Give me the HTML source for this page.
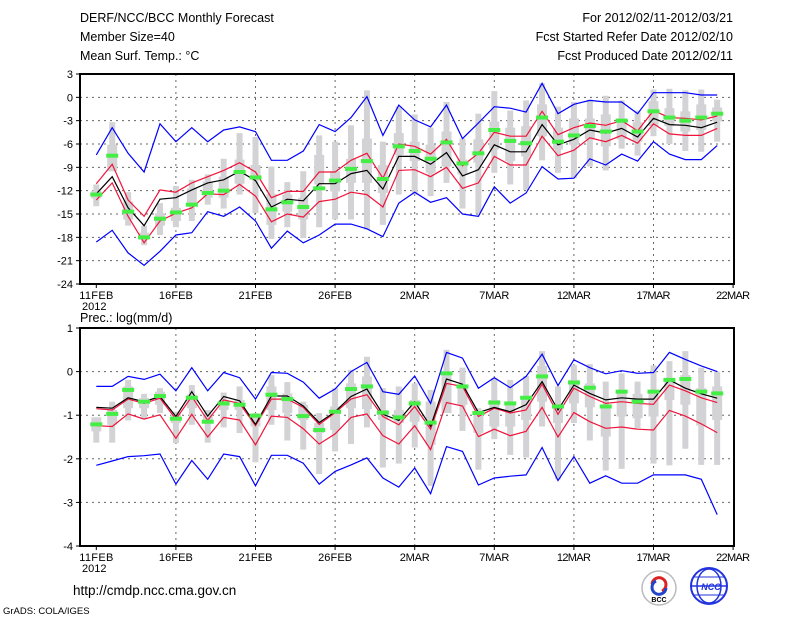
<!DOCTYPE html>
<html><head><meta charset="utf-8"><style>
html,body{margin:0;padding:0;background:#fff;}
svg{display:block;font-family:"Liberation Sans",sans-serif;}
</style></head><body>
<svg id="chart" width="800" height="618" viewBox="0 0 800 618" xmlns="http://www.w3.org/2000/svg">
<rect width="800" height="618" fill="#fff"/>
<g font-size="12.5" fill="#000">
<text x="80" y="22">DERF/NCC/BCC Monthly Forecast</text>
<text x="80" y="41">Member Size=40</text>
<text x="80" y="60">Mean Surf. Temp.: °C</text>
<text x="733" y="22" text-anchor="end">For 2012/02/11-2012/03/21</text>
<text x="733" y="41" text-anchor="end">Fcst Started Refer Date 2012/02/10</text>
<text x="733" y="60" text-anchor="end">Fcst Produced Date 2012/02/11</text>
<text x="80" y="322">Prec.: log(mm/d)</text>
<text x="73" y="595" font-size="13.5">http://cmdp.ncc.cma.gov.cn</text>
<text x="3" y="614" font-size="9.5">GrADS: COLA/IGES</text>
</g>
<g>
<circle cx="659" cy="588" r="17" fill="#fff" stroke="#bbb" stroke-width="1.5"/>
<path d="M652 584 a7 7 0 1 1 10 7" fill="none" stroke="#d22" stroke-width="3"/>
<path d="M666 588 a7 7 0 1 1 -10 -7" fill="none" stroke="#24c" stroke-width="3"/>
<text x="659" y="602" font-size="7" text-anchor="middle" font-weight="bold">BCC</text>
</g>
<g>
<circle cx="709" cy="586" r="18" fill="#fff" stroke="#2233dd" stroke-width="2"/>
<ellipse cx="709" cy="586" rx="12" ry="17" fill="none" stroke="#2233dd" stroke-width="1.5"/>
<line x1="691" y1="586" x2="727" y2="586" stroke="#2233dd" stroke-width="1.5"/>
<line x1="694" y1="577" x2="724" y2="577" stroke="#2233dd"/>
<line x1="694" y1="595" x2="724" y2="595" stroke="#2233dd"/>
<text x="711" y="590" font-size="9" fill="#2233dd" text-anchor="middle" font-weight="bold" font-style="italic">NCC</text>
</g>
<g id="top"></g>
<g id="bot"></g>
</svg>
<script>
// ---------- data: temperature panel ----------
const tMax=[-7.4,-3.9,-7.2,-9.6,-3.4,-5.7,-3.9,-5.7,-4.2,-3.8,-4.4,-8.1,-8.1,-6.9,-3.5,-4.4,-2.6,0.1,-4.9,-1.0,-2.9,-3.8,-1.0,-5.3,-3.3,-1.2,-1.4,-1.9,1.8,-2.1,-0.9,-0.4,-0.6,-0.6,-2.1,0.6,0.6,0.6,0.3,0.3];
const tMin=[-18.6,-17.1,-20.0,-21.6,-19.8,-17.7,-17.4,-14.7,-15.3,-14.1,-15.9,-19.4,-17.2,-18.7,-17.7,-16.3,-16.3,-16.9,-17.9,-13.6,-12.2,-13.5,-12.9,-15.0,-15.3,-11.5,-13.6,-12.3,-8.9,-10.5,-10.4,-7.9,-8.7,-7.3,-8.2,-5.7,-7.3,-8.0,-8.0,-6.2];
const tMean=[-12.4,-10.2,-14.2,-16.5,-13.1,-12.9,-11.9,-11.0,-10.6,-9.5,-10.7,-14.1,-13.1,-13.3,-11.1,-11.1,-9.8,-9.4,-11.8,-7.6,-7.6,-8.6,-7.1,-10.1,-9.3,-6.1,-7.0,-7.0,-3.5,-6.1,-5.4,-4.2,-4.6,-4.0,-5.1,-2.7,-3.5,-3.6,-3.9,-3.2];
const tRedHi=[-11.1,-8.6,-13.2,-15.3,-11.9,-12.2,-11.0,-10.2,-9.4,-8.4,-9.6,-12.9,-12.1,-12.1,-9.6,-9.6,-8.1,-7.2,-10.4,-6.0,-6.3,-7.3,-5.4,-8.8,-7.2,-4.5,-5.0,-5.0,-1.8,-4.8,-3.9,-3.3,-3.6,-3.0,-4.3,-1.7,-2.6,-2.7,-2.9,-2.4];
const tRedLo=[-13.2,-11.0,-15.3,-18.7,-15.9,-14.9,-14.2,-12.4,-12.5,-11.2,-12.7,-16.0,-15.0,-15.4,-13.4,-13.1,-12.2,-12.5,-14.1,-9.4,-9.3,-10.2,-9.0,-11.7,-11.0,-7.6,-8.7,-8.7,-5.0,-7.5,-6.8,-5.2,-5.7,-4.9,-5.9,-3.4,-4.7,-4.9,-4.9,-4.0];
const tObs=[-12.5,-7.5,-14.7,-18.0,-15.6,-14.8,-13.8,-12.3,-12.0,-9.6,-10.3,-14.4,-13.5,-14.1,-11.7,-10.7,-9.2,-8.2,-10.5,-6.3,-6.9,-7.9,-5.8,-8.5,-7.2,-4.2,-5.6,-5.9,-2.6,-5.7,-4.9,-3.7,-4.4,-3.0,-4.4,-1.8,-2.6,-3.0,-2.6,-2.1];
const tWhiskTop=[-11.2,-3.2,-12.2,-16.5,-13.6,-11.4,-10.6,-9.9,-7.9,-4.6,-5.1,-8.9,-10.9,-9.5,-4.9,-5.7,-3.6,0.9,-5.7,-1.2,-2.2,-3.9,-0.6,-5.3,-2.1,0.8,-1.7,-0.4,1.8,-1.2,-0.6,-0.3,0.2,-0.4,-1.7,1.0,1.1,0.9,1.0,-0.3];
const tBoxTop=[-12.0,-6.1,-13.4,-17.4,-14.9,-14.2,-11.7,-10.8,-10.2,-8.0,-8.7,-12.4,-12.5,-12.9,-7.4,-9.5,-7.9,-5.3,-8.7,-4.6,-5.7,-6.1,-4.4,-8.0,-5.4,-3.1,-3.9,-3.7,-0.9,-3.9,-2.7,-2.7,-2.2,-2.7,-3.2,-0.5,-1.4,-1.8,-0.9,-1.3];
const tBoxBot=[-13.0,-9.5,-15.7,-18.3,-16.5,-15.9,-13.8,-12.9,-12.9,-11.1,-10.6,-16.4,-14.7,-15.7,-11.2,-12.1,-11.0,-11.0,-12.3,-7.4,-8.2,-9.7,-8.9,-9.9,-8.4,-6.7,-8.2,-7.6,-5.0,-6.7,-6.1,-5.4,-6.3,-5.4,-5.7,-3.7,-3.7,-4.4,-4.2,-3.1];
const tWhiskBot=[-14.0,-9.5,-16.5,-19.0,-17.7,-16.7,-15.9,-13.8,-14.3,-12.5,-14.9,-18.2,-16.7,-18.1,-16.7,-15.7,-15.7,-17.0,-16.4,-12.5,-12.5,-12.7,-11.0,-14.3,-14.9,-9.7,-11.2,-11.9,-8.1,-9.7,-10.4,-8.9,-9.4,-6.6,-7.5,-5.0,-6.0,-6.9,-7.0,-5.7];
const tTicks=[3,0,-3,-6,-9,-12,-15,-18,-21,-24];
// ---------- data: precipitation panel ----------
const pMax=[-0.34,-0.34,-0.11,-0.18,-0.06,-0.44,0.09,-0.44,-0.02,-0.14,-0.63,-0.02,-0.04,-0.24,-0.61,-0.40,0.0,0.21,-0.46,-0.52,-0.10,-0.73,0.44,0.31,-0.38,-0.14,-0.37,-0.11,0.40,-0.32,0.27,0.09,-0.05,0.02,-0.04,-0.02,0.44,0.28,0.13,0.0];
const pMin=[-2.15,-2.05,-1.95,-1.93,-1.89,-2.58,-2.04,-2.47,-1.89,-1.95,-2.62,-1.92,-1.92,-2.10,-2.58,-2.29,-2.14,-1.98,-2.44,-2.65,-2.21,-2.80,-1.72,-1.83,-2.60,-2.44,-2.40,-2.37,-1.74,-2.50,-1.95,-2.56,-2.39,-2.56,-2.56,-2.37,-2.37,-2.37,-2.47,-3.28];
const pMean=[-0.82,-0.84,-0.60,-0.69,-0.57,-1.03,-0.46,-1.02,-0.57,-0.67,-1.21,-0.56,-0.56,-0.79,-1.17,-0.92,-0.57,-0.40,-0.98,-1.12,-0.69,-1.26,-0.17,-0.29,-0.94,-0.82,-0.92,-0.76,-0.23,-0.88,-0.31,-0.50,-0.65,-0.60,-0.63,-0.63,-0.19,-0.38,-0.51,-0.61];
const pRedHi=[-0.85,-0.88,-0.63,-0.73,-0.61,-1.09,-0.57,-1.12,-0.65,-0.73,-1.24,-0.63,-0.63,-0.82,-1.21,-0.94,-0.63,-0.53,-1.03,-1.22,-0.80,-1.32,-0.27,-0.34,-1.03,-0.84,-0.95,-0.88,-0.29,-0.98,-0.38,-0.57,-0.73,-0.69,-0.73,-0.75,-0.31,-0.44,-0.60,-0.71];
const pRedLo=[-1.24,-1.26,-0.97,-1.09,-0.99,-1.53,-0.98,-1.50,-1.05,-1.11,-1.68,-1.02,-1.05,-1.31,-1.66,-1.43,-1.05,-0.97,-1.47,-1.66,-1.24,-1.79,-0.71,-0.79,-1.49,-1.32,-1.47,-1.37,-0.82,-1.50,-0.94,-1.15,-1.30,-1.27,-1.32,-1.34,-0.89,-1.02,-1.20,-1.40];
const pObs=[-1.21,-0.97,-0.42,-0.69,-0.56,-1.08,-0.60,-1.15,-0.73,-0.76,-1.01,-0.53,-0.63,-1.02,-1.34,-0.92,-0.40,-0.34,-0.94,-1.05,-0.73,-1.17,-0.04,-0.34,-0.95,-0.71,-0.73,-0.60,-0.11,-0.80,-0.25,-0.37,-0.80,-0.46,-0.69,-0.46,-0.19,-0.17,-0.46,-0.50];
const pWhiskTop=[-1.05,-0.69,-0.19,-0.51,-0.38,-0.92,-0.31,-0.88,-0.48,-0.34,-0.95,-0.08,-0.24,-0.69,-0.95,-0.38,0.04,0.34,-0.38,-0.34,-0.27,-0.42,0.50,0.09,-0.84,-0.15,-0.19,-0.10,0.47,-0.34,0.15,0.17,-0.23,-0.04,-0.23,0.14,0.24,0.47,0.09,0.0];
const pBoxTop=[-1.05,-0.88,-0.34,-0.61,-0.46,-0.95,-0.53,-0.97,-0.65,-0.65,-0.99,-0.34,-0.50,-0.76,-1.18,-0.80,-0.27,-0.11,-0.88,-0.88,-0.65,-0.69,-0.08,-0.38,-0.98,-0.65,-0.73,-0.57,0.13,-0.84,-0.19,-0.27,-0.84,-0.50,-0.51,-0.42,-0.23,-0.08,-0.38,-0.34];
const pBoxBot=[-1.37,-1.22,-0.84,-0.84,-0.76,-1.18,-0.84,-1.18,-0.88,-0.88,-1.26,-0.88,-0.95,-1.11,-1.41,-1.34,-0.84,-0.86,-1.11,-1.18,-1.15,-1.68,-0.95,-0.76,-1.41,-1.26,-1.26,-1.11,-0.69,-1.18,-0.73,-0.82,-1.49,-1.03,-1.07,-1.03,-0.65,-0.76,-1.24,-1.11];
const pWhiskBot=[-1.63,-1.63,-1.12,-1.08,-0.95,-1.64,-1.22,-1.63,-1.28,-1.41,-2.08,-1.22,-1.58,-1.79,-2.35,-1.83,-1.66,-1.28,-2.20,-2.11,-1.74,-2.62,-0.95,-1.36,-2.25,-1.55,-1.91,-1.97,-1.26,-2.47,-1.18,-1.58,-2.27,-2.23,-1.30,-2.11,-2.15,-1.77,-2.14,-2.14];
const pTicks=[1,0,-1,-2,-3,-4];
// ---------- x axis ----------
const xLabels=["11FEB","16FEB","21FEB","26FEB","2MAR","7MAR","12MAR","17MAR","22MAR"];
const xLabelDays=[0,5,10,15,20,25,30,35,40];

const NS="http://www.w3.org/2000/svg";
function mk(tag,attrs,parent){const e=document.createElementNS(NS,tag);for(const k in attrs)e.setAttribute(k,attrs[k]);parent.appendChild(e);return e;}
const X0=96.3,DX=15.92,L=80,R=734;
function xs(d){return X0+d*DX;}

function panel(g,top,bot,vmax,vmin,ticks,D,name){
  const ys=v=>top+(vmax-v)/(vmax-vmin)*(bot-top);
  // grid
  ticks.forEach(t=>{
    const y=ys(t);
    if(t!==vmax&&t!==vmin){const gl=mk('line',{x1:L,x2:R,y1:y,y2:y,stroke:'#666','stroke-width':1,'stroke-dasharray':'2,4'},g);
    
    }
    const tk=mk('line',{x1:L-4,x2:L,y1:y,y2:y,stroke:'#000'},g);
    
    
    const tl=mk('text',{x:L-7,y:y+4,'font-size':11,'text-anchor':'end'},g);tl.textContent=t;
    
    
  });
  xLabelDays.forEach((d,i)=>{
    const x=xs(d);
    if(i>0&&i<xLabelDays.length-1){const gl=mk('line',{x1:x,x2:x,y1:top,y2:bot,stroke:'#666','stroke-dasharray':'2,4'},g);
    
    }
    const tk=mk('line',{x1:x,x2:x,y1:bot,y2:bot+4,stroke:'#000'},g);
    
    
    const tl=mk('text',{x:x,y:bot+15,'font-size':11,'text-anchor':'middle','textLength':xLabels[i].length>4?34:30},g);tl.textContent=xLabels[i];
    
    
  });
  const yr=mk('text',{x:x0y(),y:bot+26,'font-size':11,'text-anchor':'middle'},g);yr.textContent='2012';
  
  
  function x0y(){return xs(0)-2;}
  // boxes
  for(let d=0;d<D.mean.length;d++){
    const x=xs(d);
    const w=mk('rect',{x:x-3,y:ys(D.wt[d]),width:6,height:Math.max(1,ys(D.wb[d])-ys(D.wt[d])),fill:'#d3d3d6'},g);
    
    
    const b=mk('rect',{x:x-5,y:ys(D.bt[d]),width:10,height:Math.max(1,ys(D.bb[d])-ys(D.bt[d])),fill:'#d3d3d6'},g);
    
    
  }
  function line(arr,col,nm){
    const p=mk('polyline',{points:arr.map((v,d)=>xs(d).toFixed(1)+','+ys(v).toFixed(1)).join(' '),fill:'none',stroke:col,'stroke-width':1.2},g);
    
    
  }
  line(D.max,'#0000ff',name+'-max-line');
  line(D.min,'#0000ff',name+'-min-line');
  line(D.hi,'#f0143c',name+'-upper-spread-line');
  line(D.lo,'#f0143c',name+'-lower-spread-line');
  line(D.mean,'#000',name+'-ensemble-mean-line');
  D.obs.forEach((v,d)=>{
    const r=mk('rect',{x:xs(d)-6,y:ys(v)-2,width:12,height:4,fill:'#44ee44'},g);
    
    
  });
  const fr=mk('rect',{x:L,y:top,width:R-L,height:bot-top,fill:'none',stroke:'#000','stroke-width':2},g);
  
  
}
panel(document.getElementById('top'),74,284,3,-24,tTicks,{max:tMax,min:tMin,mean:tMean,hi:tRedHi,lo:tRedLo,obs:tObs,wt:tWhiskTop,bt:tBoxTop,bb:tBoxBot,wb:tWhiskBot},'temp');
panel(document.getElementById('bot'),328,546,1,-4,pTicks,{max:pMax,min:pMin,mean:pMean,hi:pRedHi,lo:pRedLo,obs:pObs,wt:pWhiskTop,bt:pBoxTop,bb:pBoxBot,wb:pWhiskBot},'precip');
</script>
</body></html>
